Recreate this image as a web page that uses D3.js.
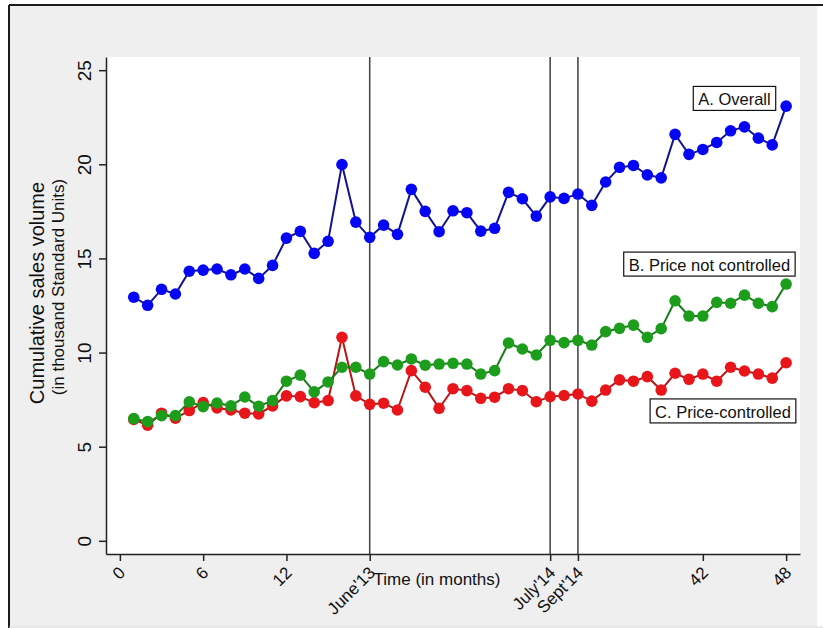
<!DOCTYPE html>
<html>
<head>
<meta charset="utf-8">
<script src="https://cdn.jsdelivr.net/npm/d3@7"></script>
<style>
  html, body { margin: 0; padding: 0; background: #ffffff; }
  svg { display: block; font-family: "Liberation Sans", Arial, Helvetica, sans-serif; }
</style>
</head>
<body>
<svg id="chart" width="823" height="628"></svg>
<script>
// Monthly cumulative sales volume (thousand Standard Units), months 1..48
const months = d3.range(1, 49);

const overall = [
  12.94, 12.51, 13.36, 13.11, 14.32, 14.38, 14.44, 14.13, 14.44, 13.94,
  14.63, 16.08, 16.44, 15.27, 15.91, 19.99, 16.93, 16.12, 16.77, 16.28,
  18.67, 17.50, 16.42, 17.53, 17.43, 16.45, 16.60, 18.51, 18.17, 17.25,
  18.27, 18.19, 18.42, 17.82, 19.06, 19.84, 19.94, 19.44, 19.28, 21.59,
  20.53, 20.79, 21.16, 21.78, 21.99, 21.39, 21.03, 23.09
];

const priceNotControlled = [
  6.49, 6.33, 6.65, 6.65, 7.38, 7.13, 7.32, 7.17, 7.64, 7.15,
  7.45, 8.48, 8.80, 7.91, 8.44, 9.22, 9.22, 8.86, 9.52, 9.34,
  9.66, 9.33, 9.39, 9.43, 9.39, 8.86, 9.04, 10.51, 10.19, 9.87,
  10.65, 10.53, 10.65, 10.40, 11.11, 11.29, 11.46, 10.81, 11.27, 12.75,
  11.94, 11.94, 12.67, 12.62, 13.05, 12.62, 12.44, 13.64
];

const priceControlled = [
  6.45, 6.14, 6.78, 6.51, 6.92, 7.34, 7.06, 6.95, 6.78, 6.74,
  7.17, 7.70, 7.66, 7.34, 7.45, 10.81, 7.70, 7.25, 7.31, 6.95,
  9.04, 8.16, 7.04, 8.08, 7.98, 7.57, 7.63, 8.08, 7.98, 7.39,
  7.66, 7.72, 7.80, 7.42, 8.01, 8.55, 8.48, 8.72, 8.01, 8.90,
  8.58, 8.86, 8.48, 9.22, 9.02, 8.86, 8.64, 9.46
];

// x-axis ticks: plain month numbers plus dated policy events
const xTickValues = [0, 6, 12, 18, 31, 33, 42, 48];
const xTickLabels = ["0", "6", "12", "June'13", "July'14", "Sept'14", "42", "48"];
const eventMonths = [18, 31, 33];

const yTickValues = [0, 5, 10, 15, 20, 25];

// Series labels: value of the box centre and month of its right edge
const seriesLabels = ["A. Overall", "B. Price not controlled", "C. Price-controlled"];
const labelValues = [23.5, 14.7, 6.9];
const labelRightMonths = [47.25, 48.65, 48.7];

const svg = d3.select("#chart");

// Outer graph region
svg.append("rect")
  .attr("x", 9).attr("y", 5).attr("width", 808).attr("height", 622)
  .attr("fill", "#efefef");
svg.append("line").attr("x1", 9).attr("x2", 823).attr("y1", 5).attr("y2", 5)
  .attr("stroke", "#1c1c1c").attr("stroke-width", 2);
svg.append("line").attr("x1", 9).attr("x2", 9).attr("y1", 5).attr("y2", 628)
  .attr("stroke", "#1c1c1c").attr("stroke-width", 2);
svg.append("line").attr("x1", 9).attr("x2", 823).attr("y1", 627).attr("y2", 627)
  .attr("stroke", "#d6d6d6").attr("stroke-width", 1);

// Plot region
const plot = { left: 106, right: 800, top: 57, bottom: 554 };

const x = d3.scaleLinear().domain([-1, 49]).range([plot.left, plot.right]);
const y = d3.scaleLinear().domain([-0.7, 25.7]).range([plot.bottom, plot.top]);

svg.append("rect")
  .attr("x", plot.left).attr("y", plot.top)
  .attr("width", plot.right - plot.left).attr("height", plot.bottom - plot.top)
  .attr("fill", "#ffffff");

// Event reference lines
svg.append("g").selectAll("line")
  .data(eventMonths).join("line")
  .attr("x1", d => x(d)).attr("x2", d => x(d))
  .attr("y1", plot.top).attr("y2", plot.bottom)
  .attr("stroke", "#4a4a4a").attr("stroke-width", 1.6);

// Y axis
const yAxis = d3.axisLeft(y).tickValues(yTickValues).tickSize(7).tickSizeOuter(0);
const gy = svg.append("g").attr("transform", `translate(${plot.left},0)`).call(yAxis);
gy.select(".domain").attr("stroke", "#222").attr("stroke-width", 1.5);
gy.selectAll(".tick line").attr("stroke", "#222").attr("stroke-width", 1.5);
gy.selectAll(".tick text")
  .attr("font-size", 19).attr("fill", "#111")
  .attr("x", 0).attr("dy", 0)
  .attr("text-anchor", "middle")
  .attr("transform", "translate(-22,0) rotate(-90)")
  .attr("dominant-baseline", "central");

// X axis
const xAxis = d3.axisBottom(x).tickValues(xTickValues)
  .tickFormat((d, i) => xTickLabels[i]).tickSize(7).tickSizeOuter(0);
const gx = svg.append("g").attr("transform", `translate(0,${plot.bottom})`).call(xAxis);
gx.select(".domain").attr("stroke", "#222").attr("stroke-width", 1.5);
gx.selectAll(".tick line").attr("stroke", "#222").attr("stroke-width", 1.5);
gx.selectAll(".tick text")
  .attr("font-size", 17).attr("fill", "#111")
  .attr("y", 0).attr("dy", 0)
  .attr("text-anchor", "end")
  .attr("transform", "translate(2,16) rotate(-45)")
  .attr("dominant-baseline", "central");

// Axis titles
svg.append("text")
  .attr("transform", "translate(44,293) rotate(-90)")
  .attr("text-anchor", "middle").attr("font-size", 20).attr("fill", "#111")
  .text("Cumulative sales volume");
svg.append("text")
  .attr("transform", "translate(64,287) rotate(-90)")
  .attr("text-anchor", "middle").attr("font-size", 17).attr("fill", "#111")
  .text("(in thousand Standard Units)");
svg.append("text")
  .attr("x", 437).attr("y", 585)
  .attr("text-anchor", "middle").attr("font-size", 17).attr("fill", "#111")
  .text("Time (in months)");

// Series
const series = [
  { values: overall, dot: "#0505f5", line: "#12128e" },
  { values: priceControlled, dot: "#e8161a", line: "#b81414" },
  { values: priceNotControlled, dot: "#1c9e1c", line: "#177c17" }
];

const line = d3.line().x((d, i) => x(months[i])).y(d => y(d));

series.forEach(s => {
  const g = svg.append("g");
  g.append("path")
    .attr("d", line(s.values))
    .attr("fill", "none").attr("stroke", s.line).attr("stroke-width", 2);
  g.selectAll("circle").data(s.values).join("circle")
    .attr("cx", (d, i) => x(months[i])).attr("cy", d => y(d))
    .attr("r", 5.8).attr("fill", s.dot);
});

// Boxed series labels
seriesLabels.forEach((txt, i) => {
  const g = svg.append("g");
  const t = g.append("text")
    .attr("x", 0).attr("y", 0)
    .attr("font-size", 16.5).attr("fill", "#111")
    .attr("dominant-baseline", "central")
    .text(txt);
  const w = t.node().getComputedTextLength();
  const padX = 5, h = 24;
  const right = x(labelRightMonths[i]);
  const cy = y(labelValues[i]);
  t.attr("x", right - padX - w).attr("y", cy + 1);
  g.insert("rect", "text")
    .attr("x", right - w - 2 * padX).attr("y", cy - h / 2)
    .attr("width", w + 2 * padX).attr("height", h)
    .attr("fill", "#ffffff").attr("stroke", "#111").attr("stroke-width", 1.2);
});
</script>
</body>
</html>
